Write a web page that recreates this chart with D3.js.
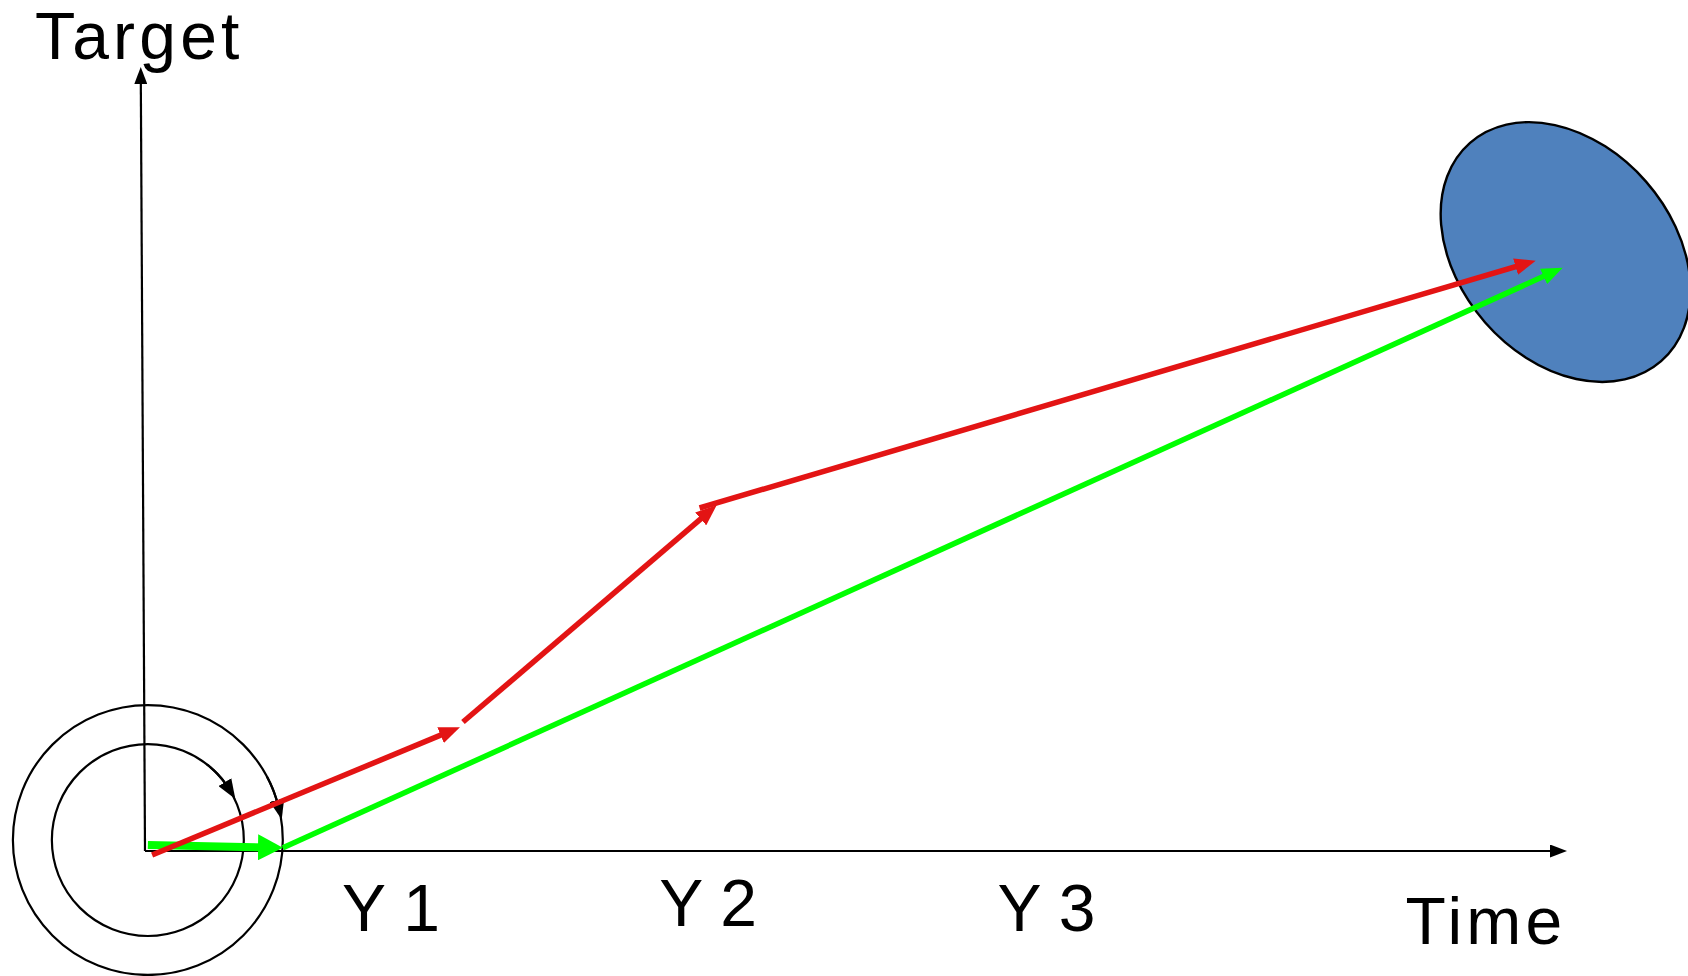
<!DOCTYPE html>
<html>
<head>
<meta charset="utf-8">
<script src="https://cdn.jsdelivr.net/npm/d3@7"></script>
<style>
  html, body { margin: 0; padding: 0; background: #ffffff; }
  svg { display: block; }
  text { font-family: "Liberation Sans", Arial, Helvetica, sans-serif; fill: #000; }
</style>
</head>
<body>
<svg id="chart" width="1688" height="976"></svg>
<script>
// ---- data (in chart units: time along x, target along y) ----
const timeLabels = ["Y 1", "Y 2", "Y 3"];
const timeLabelX = [1.73, 3.96, 6.34];
const timeLabelY = [-1.02, -0.96, -1.02];

const axisTitles = ["Target", "Time"];
const axisTitleX = [-0.04, 9.43];
const axisTitleY = [10.10, -1.186];

const xAxisPoints = [[0, 0], [10, 0]];
const yAxisPoints = [[0, 0], [-0.03, 10]];

// red path: three arrow segments
const redSeg1 = [[0.05, -0.05], [2.215, 1.58]];
const redSeg2 = [[2.236, 1.645], [4.02, 4.41]];
const redSeg3 = [[3.90, 4.375], [9.78, 7.53]];

// green path: short thick arrow then long arrow
const greenSeg1 = [[0.02, 0.077], [0.97, 0.04]];
const greenSeg2 = [[0.97, 0.04], [9.97, 7.44]];

// start circles (center, radii in x-units)
const circleCenter = [0.02, 0.14];
const circleRadii = [0.675, 0.949];
// rotation arrows on the circles: [radius index, start deg, end deg] (clockwise from top)
const circleArrows = [[0, 38, 64], [1, 62, 82]];

// target ellipse
const ellipseCenter = [9.99, 7.64];
const ellipseRadii = [1.02, 0.752];
const ellipseAngle = 48.8;

// ---- scales ----
const svg = d3.select("#chart");
const x = d3.scaleLinear().domain([0, 10]).range([145, 1567]);
const y = d3.scaleLinear().domain([0, 10]).range([851, 67]);
const px = v => x(v) - x(0);

const defs = svg.append("defs");
function marker(id, color, L, W) {
  defs.append("marker")
    .attr("id", id)
    .attr("markerUnits", "userSpaceOnUse")
    .attr("viewBox", `0 ${-W / 2} ${L} ${W}`)
    .attr("markerWidth", L)
    .attr("markerHeight", W)
    .attr("refX", L / 2)
    .attr("refY", 0)
    .attr("orient", "auto")
    .append("path")
    .attr("d", `M0,${-W / 2}L${L},0L0,${W / 2}Z`)
    .attr("fill", color);
}
marker("blackHead", "#000", 17, 13);
marker("blackSmall", "#000", 20, 15);
marker("redHead", "#e31414", 21, 17);
marker("greenHead", "#00ff00", 21, 17);
marker("greenBig", "#00ff00", 25, 26);

// shorten a 2-point segment in pixel space so marker tip lands on endpoint
function arrowLine(seg, cut) {
  const x0 = x(seg[0][0]), y0 = y(seg[0][1]);
  const x1 = x(seg[1][0]), y1 = y(seg[1][1]);
  const dx = x1 - x0, dy = y1 - y0, len = Math.hypot(dx, dy);
  const k = (len - cut) / len;
  return d3.line()([[x0, y0], [x0 + dx * k, y0 + dy * k]]);
}

// ---- circles ----
const cx = x(circleCenter[0]), cy = y(circleCenter[1]);
svg.selectAll("circle.start").data(circleRadii).enter().append("circle")
  .attr("class", "start")
  .attr("cx", cx).attr("cy", cy)
  .attr("r", d => px(d))
  .attr("fill", "none").attr("stroke", "#000").attr("stroke-width", 2.2);

// ---- ellipse ----
svg.append("ellipse")
  .attr("cx", 0).attr("cy", 0)
  .attr("rx", px(ellipseRadii[0])).attr("ry", px(ellipseRadii[1]))
  .attr("transform", `translate(${x(ellipseCenter[0])},${y(ellipseCenter[1])}) rotate(${ellipseAngle})`)
  .attr("fill", "#4f81bd").attr("stroke", "#000").attr("stroke-width", 2.4);

// ---- axes ----
function axisPath(pts) {
  const x0 = x(pts[0][0]), y0 = y(pts[0][1]);
  const x1 = x(pts[1][0]), y1 = y(pts[1][1]);
  const dx = x1 - x0, dy = y1 - y0, len = Math.hypot(dx, dy), k = (len - 8.5) / len;
  return d3.line()([[x0, y0], [x0 + dx * k, y0 + dy * k]]);
}
[xAxisPoints, yAxisPoints].forEach(p => {
  svg.append("path").attr("d", axisPath(p))
    .attr("stroke", "#000").attr("stroke-width", 2.2).attr("fill", "none")
    .attr("marker-end", "url(#blackHead)");
});

// ---- circle rotation arrows ----
circleArrows.forEach(([ri, a0, a1]) => {
  const r = px(circleRadii[ri]);
  const pts = d3.range(a0, a1 - 5 + 0.01, 1).map(a => {
    const t = a * Math.PI / 180;
    return [cx + r * Math.sin(t), cy - r * Math.cos(t)];
  });
  svg.append("path").attr("d", d3.line().curve(d3.curveBasis)(pts))
    .attr("stroke", "#000").attr("stroke-width", 2.2).attr("fill", "none")
    .attr("marker-end", "url(#blackSmall)");
});

// ---- green arrows ----
svg.append("path").attr("d", arrowLine(greenSeg2, 10.5))
  .attr("stroke", "#00ff00").attr("stroke-width", 5.5).attr("fill", "none")
  .attr("marker-end", "url(#greenHead)");
svg.append("path").attr("d", arrowLine(greenSeg1, 12.5))
  .attr("stroke", "#00ff00").attr("stroke-width", 8).attr("fill", "none")
  .attr("marker-end", "url(#greenBig)");

// ---- red arrows ----
[redSeg1, redSeg2, redSeg3].forEach(seg => {
  svg.append("path").attr("d", arrowLine(seg, 10.5))
    .attr("stroke", "#e31414").attr("stroke-width", 5.5).attr("fill", "none")
    .attr("marker-end", "url(#redHead)");
});

// ---- labels ----
svg.selectAll("text.tick").data(timeLabels).enter().append("text")
  .attr("class", "tick")
  .attr("x", (d, i) => x(timeLabelX[i]))
  .attr("y", (d, i) => y(timeLabelY[i]))
  .attr("text-anchor", "middle")
  .attr("font-size", 66)
  .text(d => d);

svg.selectAll("text.title").data(axisTitles).enter().append("text")
  .attr("class", "title")
  .attr("x", (d, i) => x(axisTitleX[i]))
  .attr("y", (d, i) => y(axisTitleY[i]))
  .attr("text-anchor", "middle")
  .attr("font-size", 66)
  .attr("letter-spacing", 4.2)
  .text(d => d);
</script>
</body>
</html>
